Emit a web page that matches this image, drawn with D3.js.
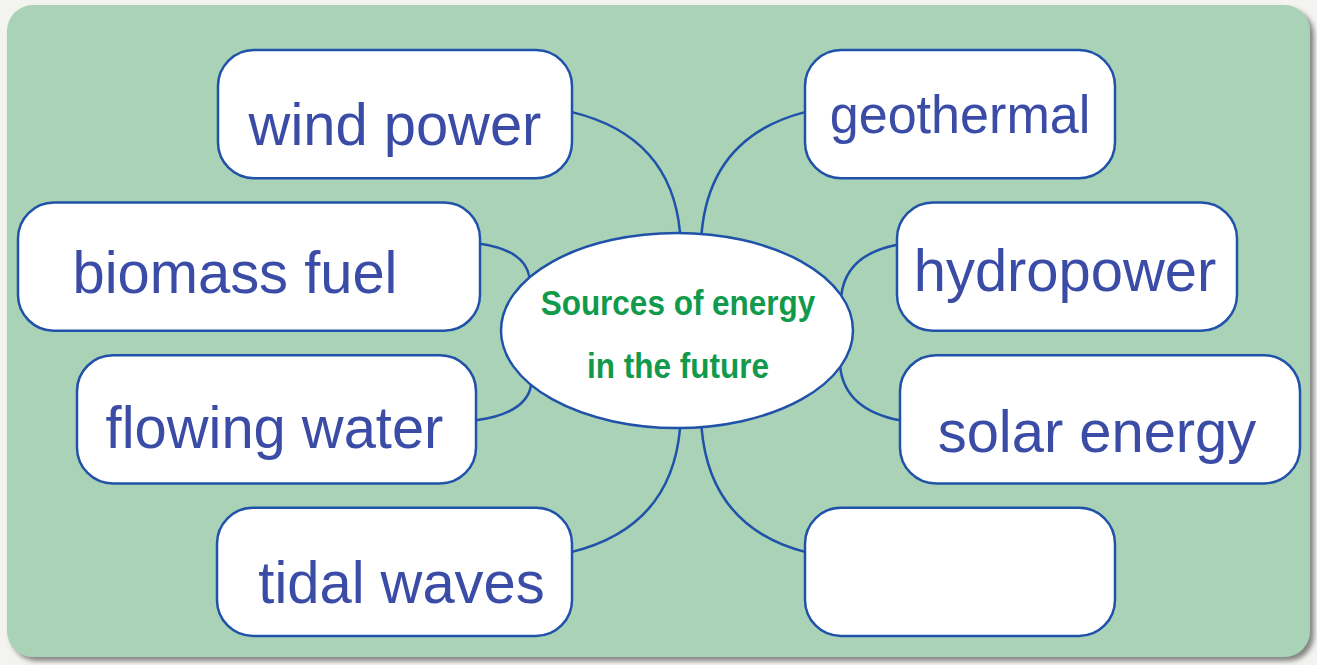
<!DOCTYPE html>
<html>
<head>
<meta charset="utf-8">
<script src="https://cdn.jsdelivr.net/npm/d3@7"></script>
<style>
  body { margin: 0; background: #f3f3f0; }
  svg { display: block; }
</style>
</head>
<body>
<div id="map"></div>
<script>
// labels of the mind map (left column top to bottom, right column top to bottom)
var leftLabels = ["wind power", "biomass fuel", "flowing water", "tidal waves"];
var rightLabels = ["geothermal", "hydropower", "solar energy", ""];
var centreLines = ["Sources of energy", "in the future"];

// layout of the boxes: horizontal extent, text size / offsets, where the link leaves the box
var leftLayout = [
  { x0: 218, x1: 572, size: 60, dx: 0, dy: 31, attach: -2, angle: -89 },
  { x0: 18, x1: 480, size: 60, dx: -14, dy: 26, attach: -23, angle: -147 },
  { x0: 77, x1: 476, size: 60, dx: -2, dy: 29, attach: 1, angle: 146 },
  { x0: 217, x1: 572, size: 60, dx: 7, dy: 31, attach: -20, angle: 89 }
];
var rightLayout = [
  { x0: 805, x1: 1115, size: 54, dx: 0, dy: 19, attach: -2, angle: -82 },
  { x0: 897, x1: 1237, size: 60, dx: -2, dy: 24, attach: -22, angle: -21 },
  { x0: 900, x1: 1300, size: 60, dx: -3, dy: 33, attach: 1, angle: 22 },
  { x0: 805, x1: 1115, size: 60, dx: 0, dy: 30, attach: -20, angle: 82 }
];

var svgWidth = 1317, svgHeight = 665;
var ellipse = { cx: 677, cy: 330.5, rx: 176, ry: 97.5 };

var svg = d3.select("#map").append("svg")
    .attr("width", svgWidth)
    .attr("height", svgHeight);

// drop shadow for the green panel
var defs = svg.append("defs");
var shadow = defs.append("filter").attr("id", "shadow")
    .attr("x", "-5%").attr("y", "-5%").attr("width", "110%").attr("height", "110%");
shadow.append("feDropShadow")
    .attr("dx", 4).attr("dy", 4).attr("stdDeviation", 2.5)
    .attr("flood-color", "#555").attr("flood-opacity", 0.7);

svg.append("rect")
    .attr("x", 7).attr("y", 5)
    .attr("width", 1303).attr("height", 652)
    .attr("rx", 26)
    .attr("fill", "#a9d2b7")
    .attr("filter", "url(#shadow)");

// rows of the two columns
var rowScale = d3.scaleBand()
    .domain(d3.range(leftLabels.length))
    .range([50, 636])
    .paddingInner(0.16);

function ellipsePoint(deg) {
  var a = deg * Math.PI / 180;
  return [ellipse.cx + ellipse.rx * Math.cos(a), ellipse.cy + ellipse.ry * Math.sin(a)];
}

var nodes = [];
leftLabels.forEach(function(label, i) {
  nodes.push({ label: label, row: i, side: "left", lay: leftLayout[i] });
});
rightLabels.forEach(function(label, i) {
  nodes.push({ label: label, row: i, side: "right", lay: rightLayout[i] });
});

// connectors (drawn first so the boxes and ellipse sit on top)
var linkGroup = svg.append("g");
linkGroup.selectAll("path")
  .data(nodes)
  .enter()
  .append("path")
    .attr("d", function(d) {
      var cy = rowScale(d.row) + rowScale.bandwidth() / 2;
      var sx = d.side === "left" ? d.lay.x1 : d.lay.x0;
      var sy = cy + d.lay.attach;
      var e = ellipsePoint(d.lay.angle);
      var cx1 = sx + 0.92 * (e[0] - sx);
      var cy1 = sy + 0.2 * (e[1] - sy);
      return "M" + sx + "," + sy + " Q" + cx1 + "," + cy1 + " " + e[0] + "," + e[1];
    })
    .attr("fill", "none")
    .attr("stroke", "#1f52a8")
    .attr("stroke-width", 2.5);

// boxes
var boxGroup = svg.append("g").selectAll("g")
  .data(nodes)
  .enter()
  .append("g");

boxGroup.append("rect")
    .attr("x", function(d) { return d.lay.x0; })
    .attr("y", function(d) { return rowScale(d.row); })
    .attr("width", function(d) { return d.lay.x1 - d.lay.x0; })
    .attr("height", rowScale.bandwidth())
    .attr("rx", 36)
    .attr("fill", "#ffffff")
    .attr("stroke", "#1f52a8")
    .attr("stroke-width", 2.5);

// text is slightly narrower than the plain font, so squeeze it around its centre
boxGroup.append("text")
    .attr("transform", function(d) {
      var x = (d.lay.x0 + d.lay.x1) / 2 + d.lay.dx;
      var y = rowScale(d.row) + rowScale.bandwidth() / 2 + d.lay.dy;
      return "translate(" + x + "," + y + ") scale(0.965,1)";
    })
    .attr("text-anchor", "middle")
    .style("font-family", "'Liberation Sans', Arial, sans-serif")
    .style("font-size", function(d) { return d.lay.size + "px"; })
    .attr("fill", "#3a4ca6")
    .text(function(d) { return d.label; });

// centre ellipse
svg.append("ellipse")
    .attr("cx", ellipse.cx).attr("cy", ellipse.cy)
    .attr("rx", ellipse.rx).attr("ry", ellipse.ry)
    .attr("fill", "#ffffff")
    .attr("stroke", "#1f52a8")
    .attr("stroke-width", 2.5);

svg.append("g").selectAll("text")
  .data(centreLines)
  .enter()
  .append("text")
    .attr("transform", function(d, i) {
      return "translate(" + (ellipse.cx + 1) + "," + (315 + i * 63) + ") scale(0.9,1)";
    })
    .attr("text-anchor", "middle")
    .style("font-family", "'Liberation Sans', Arial, sans-serif")
    .style("font-weight", "bold")
    .style("font-size", "35px")
    .attr("fill", "#119a4b")
    .text(function(d) { return d; });
</script>
</body>
</html>
